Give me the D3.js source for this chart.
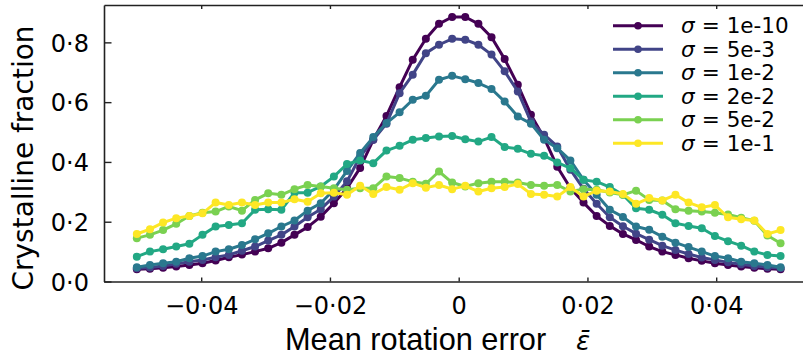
<!DOCTYPE html>
<html>
<head>
<meta charset="utf-8">
<script src="https://cdn.jsdelivr.net/npm/d3@7"></script>
<style>
  body { margin: 0; background: #fff; }
  svg text { font-family: "DejaVu Sans", sans-serif; fill: #000; }
</style>
</head>
<body>
<svg id="chart" width="803" height="360"></svg>
<script>
// sample positions of the error grid (50 points)
var errors = [-0.05, -0.04796, -0.04592, -0.04388, -0.04184, -0.0398, -0.03776, -0.03571, -0.03367, -0.03163,
  -0.02959, -0.02755, -0.02551, -0.02347, -0.02143, -0.01939, -0.01735, -0.01531, -0.01327, -0.01122,
  -0.00918, -0.00714, -0.0051, -0.00306, -0.00102, 0.00102, 0.00306, 0.0051, 0.00714, 0.00918,
  0.01122, 0.01327, 0.01531, 0.01735, 0.01939, 0.02143, 0.02347, 0.02551, 0.02755, 0.02959,
  0.03163, 0.03367, 0.03571, 0.03776, 0.0398, 0.04184, 0.04388, 0.04592, 0.04796, 0.05];

var sigmaLabels = ["1e-10", "5e-3", "1e-2", "2e-2", "5e-2", "1e-1"];
var sigmaColors = ["#440154", "#414487", "#2a788e", "#22a884", "#7ad151", "#fde725"];

var frac1e10 = [0.041, 0.043, 0.046, 0.05, 0.055, 0.061, 0.07, 0.081, 0.09, 0.1,
  0.111, 0.13, 0.156, 0.182, 0.217, 0.262, 0.312, 0.38, 0.474, 0.554,
  0.65, 0.742, 0.812, 0.862, 0.885, 0.885, 0.862, 0.817, 0.744, 0.658,
  0.558, 0.48, 0.384, 0.313, 0.264, 0.219, 0.186, 0.159, 0.139, 0.117,
  0.1, 0.089, 0.078, 0.069, 0.061, 0.055, 0.05, 0.046, 0.043, 0.041];
var frac5e3 = [0.044, 0.047, 0.052, 0.059, 0.066, 0.072, 0.081, 0.089, 0.103, 0.117,
  0.137, 0.156, 0.184, 0.215, 0.242, 0.284, 0.335, 0.418, 0.474, 0.528,
  0.63, 0.692, 0.764, 0.792, 0.812, 0.809, 0.792, 0.759, 0.703, 0.636,
  0.535, 0.491, 0.452, 0.374, 0.31, 0.26, 0.215, 0.185, 0.16, 0.14,
  0.12, 0.105, 0.092, 0.08, 0.072, 0.064, 0.058, 0.052, 0.048, 0.045];
var frac1e2 = [0.048, 0.055, 0.061, 0.066, 0.078, 0.085, 0.1, 0.108, 0.122, 0.141,
  0.161, 0.184, 0.204, 0.237, 0.262, 0.307, 0.37, 0.43, 0.483, 0.53,
  0.566, 0.608, 0.621, 0.675, 0.688, 0.677, 0.664, 0.644, 0.602, 0.552,
  0.528, 0.474, 0.446, 0.405, 0.34, 0.29, 0.24, 0.216, 0.184, 0.173,
  0.15, 0.13, 0.115, 0.1, 0.085, 0.078, 0.066, 0.061, 0.055, 0.048];
var frac2e2 = [0.083, 0.1, 0.108, 0.117, 0.126, 0.156, 0.184, 0.189, 0.195, 0.24,
  0.242, 0.24, 0.297, 0.297, 0.318, 0.351, 0.393, 0.405, 0.396, 0.438,
  0.454, 0.474, 0.48, 0.485, 0.487, 0.476, 0.468, 0.483, 0.45, 0.444,
  0.427, 0.421, 0.398, 0.379, 0.34, 0.334, 0.316, 0.29, 0.245, 0.24,
  0.223, 0.195, 0.186, 0.178, 0.152, 0.135, 0.12, 0.1, 0.089, 0.085];
var frac5e2 = [0.145, 0.156, 0.172, 0.193, 0.219, 0.23, 0.234, 0.251, 0.237, 0.273,
  0.295, 0.29, 0.309, 0.323, 0.318, 0.312, 0.307, 0.312, 0.312, 0.351,
  0.346, 0.334, 0.327, 0.368, 0.331, 0.318, 0.329, 0.334, 0.334, 0.331,
  0.323, 0.32, 0.323, 0.301, 0.309, 0.307, 0.298, 0.29, 0.304, 0.273,
  0.271, 0.242, 0.237, 0.234, 0.23, 0.224, 0.213, 0.203, 0.154, 0.128];
var frac1e1 = [0.159, 0.175, 0.197, 0.212, 0.219, 0.228, 0.264, 0.256, 0.264, 0.256,
  0.264, 0.264, 0.275, 0.267, 0.295, 0.297, 0.29, 0.32, 0.293, 0.316,
  0.307, 0.329, 0.314, 0.323, 0.309, 0.32, 0.301, 0.312, 0.316, 0.326,
  0.293, 0.29, 0.284, 0.316, 0.284, 0.304, 0.301, 0.293, 0.26, 0.279,
  0.271, 0.29, 0.264, 0.248, 0.256, 0.215, 0.208, 0.204, 0.159, 0.172];

var xTickValues = [-0.04, -0.02, 0, 0.02, 0.04];
var xTickLabels = ["\u22120\u00b704", "\u22120\u00b702", "0", "0\u00b702", "0\u00b704"];
var yTickValues = [0, 0.2, 0.4, 0.6, 0.8];
var yTickLabels = ["0\u00b70", "0\u00b72", "0\u00b74", "0\u00b76", "0\u00b78"];

var series = [frac1e10, frac5e3, frac1e2, frac2e2, frac5e2, frac1e1];

var svg = d3.select("#chart");
var margin = {top: 5, left: 104, bottom: 281.5, right: 813.4};

var x = d3.scaleLinear()
      .domain([-0.0551, 0.0551])
      .range([margin.left, margin.right]);
var y = d3.scaleLinear()
      .domain([0, 0.925])
      .range([margin.bottom, margin.top]);

var line = d3.line()
      .x(function(d) { return x(d[0]); })
      .y(function(d) { return y(d[1]); });

// data
series.forEach(function(vals, k) {
  var pts = errors.map(function(e, i) { return [e, vals[i]]; });
  var g = svg.append("g").attr("class", "series");
  g.append("path")
    .datum(pts)
    .attr("d", line)
    .style("fill", "none")
    .style("stroke", sigmaColors[k])
    .style("stroke-width", 3)
    .style("stroke-linejoin", "round");
  g.selectAll("circle")
    .data(pts)
    .enter()
    .append("circle")
    .attr("cx", function(d) { return x(d[0]); })
    .attr("cy", function(d) { return y(d[1]); })
    .attr("r", 4)
    .style("fill", sigmaColors[k]);
});

// axes, ticks pointing inwards
var xAxis = svg.append("g")
    .attr("transform", "translate(0," + margin.bottom + ")")
    .call(d3.axisBottom(x)
      .tickValues(xTickValues)
      .tickSizeInner(-4)
      .tickSizeOuter(0)
      .tickPadding(14)
      .tickFormat(function(d, i) { return xTickLabels[i]; }));

var xTop = svg.append("g")
    .attr("transform", "translate(0," + margin.top + ")")
    .call(d3.axisTop(x)
      .tickValues(xTickValues)
      .tickSizeInner(-4)
      .tickSizeOuter(0)
      .tickFormat(""));

var yAxis = svg.append("g")
    .attr("transform", "translate(" + margin.left + ",0)")
    .call(d3.axisLeft(y)
      .tickValues(yTickValues)
      .tickSizeInner(-7.5)
      .tickSizeOuter(0)
      .tickPadding(15)
      .tickFormat(function(d, i) { return yTickLabels[i]; }));

[xAxis, xTop, yAxis].forEach(function(a) {
  a.select(".domain").style("stroke", "#222").style("stroke-width", 1.6);
  a.selectAll(".tick line").style("stroke", "#222").style("stroke-width", 1.4);
  a.selectAll(".tick text")
    .style("font-size", "24px")
    .style("font-family", "DejaVu Sans, sans-serif")
    .style("fill", "#000");
});
yAxis.selectAll(".tick text").attr("dy", "0.36em");
xAxis.selectAll(".tick text").attr("dy", "0.75em");

// axis titles
svg.append("text")
    .attr("transform", "translate(33,158) rotate(-90)")
    .attr("text-anchor", "middle")
    .style("font-size", "28px")
    .text("Crystalline fraction");

// narrow title font: squeeze Liberation Sans horizontally
svg.append("text")
    .attr("transform", "translate(285,350) scale(0.96,1)")
    .style("font-family", "'Liberation Sans', Arial, sans-serif")
    .style("font-size", "32px")
    .text("Mean rotation error");
svg.append("text")
    .attr("x", 576)
    .attr("y", 350)
    .style("font-style", "italic")
    .style("font-size", "26px")
    .text("\u03b5\u0304");

// legend
var legend = svg.selectAll(".legend")
    .data(sigmaLabels)
    .enter()
    .append("g")
    .attr("class", "legend")
    .attr("transform", function(d, i) { return "translate(613," + (25.7 + i*23.5) + ")"; });

legend.append("line")
    .attr("x1", 0).attr("x2", 50)
    .style("stroke", function(d, i) { return sigmaColors[i]; })
    .style("stroke-width", 3);
legend.append("circle")
    .attr("cx", 25)
    .attr("r", 3.8)
    .style("fill", function(d, i) { return sigmaColors[i]; });

var legendText = legend.append("text")
    .attr("x", 68)
    .attr("dy", "0.36em")
    .style("font-size", "21.5px");
legendText.append("tspan").style("font-style", "italic").text("\u03c3");
legendText.append("tspan").attr("dx", 7).text("=");
legendText.append("tspan").attr("dx", 7).text(function(d) { return d; });
</script>
</body>
</html>
